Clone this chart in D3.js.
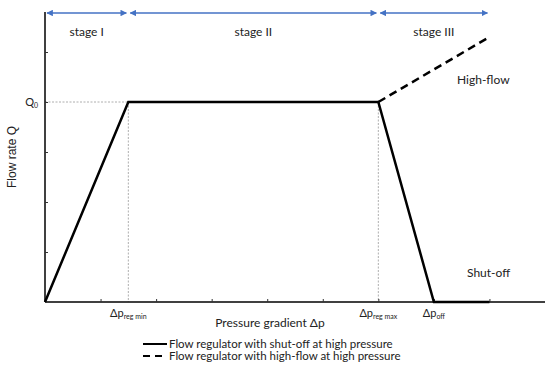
<!DOCTYPE html>
<html>
<head>
<meta charset="utf-8">
<script src="https://cdn.jsdelivr.net/npm/d3@7"></script>
<style>
  body { margin: 0; background: #fff; }
  svg { display: block; font-family: Lato, "Open Sans", sans-serif; }
</style>
</head>
<body>
<div id="chart"></div>
<script>
// curve points (Δp in axis units, Q in axis units)
const shutOffX = [0, 1.5, 6, 7, 8];
const shutOffY = [0, 4, 4, 0, 0];
const highFlowX = [6, 8];
const highFlowY = [4, 5.3];
const q0 = 4;
const xTickValues = [1, 2, 3, 4, 5, 6, 7, 8];
const yTickValues = [1, 2, 3, 4, 5];
const markX = [1.5, 6, 7];
const markLabels = [["Δp", "reg min"], ["Δp", "reg max"], ["Δp", "off"]];
const stageBounds = [[0, 1.5], [1.5, 6], [6, 8]];
const stageNames = ["stage I", "stage II", "stage III"];
const legendNames = [
  "Flow regulator with shut-off at high pressure",
  "Flow regulator with high-flow at high pressure",
];

const width = 550, height = 368;
const margin = { top: 12, right: 5, bottom: 66, left: 45 };

const svg = d3.select("#chart").append("svg")
  .attr("width", width).attr("height", height);

const x = d3.scaleLinear().domain([0, 9]).range([margin.left, width - margin.right]);
const y = d3.scaleLinear().domain([0, 5.8]).range([height - margin.bottom, margin.top]);

// guide lines
const guide = svg.append("g")
  .attr("stroke", "#999").attr("stroke-width", 0.8).attr("stroke-dasharray", "2,1.5");
guide.append("line")
  .attr("x1", x(0)).attr("x2", x(1.5)).attr("y1", y(q0)).attr("y2", y(q0));
markX.slice(0, 2).forEach((v) => {
  guide.append("line")
    .attr("x1", x(v)).attr("x2", x(v)).attr("y1", y(q0)).attr("y2", y(0));
});

// axes
svg.append("g")
  .attr("transform", `translate(0,${y(0)})`)
  .call(d3.axisTop(x).tickValues(xTickValues).tickSize(3).tickFormat(""))
  .call((g) => g.select(".domain").attr("stroke-width", 1.5).attr("d", `M${x(0)},0H${x(9)}`))
  .call((g) => g.selectAll(".tick line").attr("stroke", "#333"));

svg.append("g")
  .attr("transform", `translate(${x(0)},0)`)
  .call(d3.axisRight(y).tickValues(yTickValues).tickSize(3).tickFormat(""))
  .call((g) => g.select(".domain").attr("stroke-width", 1.5).attr("d", `M0,${y(0)}V${y(5.8)}`))
  .call((g) => g.selectAll(".tick line").attr("stroke", "#333"));

// curves
const line = d3.line().x((d) => x(d[0])).y((d) => y(d[1]));
svg.append("path")
  .datum(d3.zip(highFlowX, highFlowY))
  .attr("d", line).attr("fill", "none")
  .attr("stroke", "#000").attr("stroke-width", 2.5).attr("stroke-dasharray", "8,5");
svg.append("path")
  .datum(d3.zip(shutOffX, shutOffY))
  .attr("d", line).attr("fill", "none")
  .attr("stroke", "#000").attr("stroke-width", 2.5).attr("stroke-linejoin", "miter");

// stage arrows
const defs = svg.append("defs");
defs.append("marker").attr("id", "arr").attr("viewBox", "0 0 10 10")
  .attr("refX", 9).attr("refY", 5).attr("markerWidth", 5).attr("markerHeight", 5)
  .attr("orient", "auto-start-reverse")
  .append("path").attr("d", "M0,0L10,5L0,10Z").attr("fill", "#4472c4");

const stageY = 13;
stageBounds.forEach((b, i) => {
  svg.append("line")
    .attr("x1", x(b[0]) + 2).attr("x2", x(b[1]) - 2)
    .attr("y1", stageY).attr("y2", stageY)
    .attr("stroke", "#4472c4").attr("stroke-width", 1.3)
    .attr("marker-start", "url(#arr)").attr("marker-end", "url(#arr)");
  svg.append("text")
    .attr("x", (x(b[0]) + x(b[1])) / 2).attr("y", 36)
    .attr("text-anchor", "middle").attr("font-size", 12).attr("fill", "#222")
    .text(stageNames[i]);
});

// Q0 label
const q0Label = svg.append("text")
  .attr("x", 38).attr("y", y(q0) + 4)
  .attr("text-anchor", "end").attr("font-size", 11).attr("fill", "#222");
q0Label.append("tspan").text("Q");
q0Label.append("tspan").attr("font-size", 7).attr("dy", 2).text("0");

// x marker labels
markX.forEach((v, i) => {
  const t = svg.append("text")
    .attr("x", x(v)).attr("y", 317)
    .attr("text-anchor", "middle").attr("font-size", 11).attr("fill", "#222");
  t.append("tspan").text(markLabels[i][0]);
  t.append("tspan").attr("font-size", 7).attr("dy", 2).text(markLabels[i][1]);
});

// annotations
svg.append("text").attr("x", 457).attr("y", 84)
  .attr("font-size", 12).attr("fill", "#222").text("High-flow");
svg.append("text").attr("x", 467).attr("y", 277)
  .attr("font-size", 12).attr("fill", "#222").text("Shut-off");

// axis titles
svg.append("text")
  .attr("x", 270).attr("y", 327)
  .attr("text-anchor", "middle").attr("font-size", 12).attr("fill", "#222")
  .text("Pressure gradient Δp");
svg.append("text")
  .attr("transform", `translate(16,${(y(0) + y(5.8)) / 2}) rotate(-90)`)
  .attr("text-anchor", "middle").attr("font-size", 12).attr("fill", "#222")
  .style("font-family", "'Liberation Sans', Arial, sans-serif")
  .text("Flow rate Q");

// legend
const legend = svg.append("g").attr("transform", "translate(143,344)");
legendNames.forEach((name, i) => {
  const row = legend.append("g").attr("transform", `translate(0,${i * 12})`);
  row.append("line").attr("x1", 0).attr("x2", 24).attr("y1", 0).attr("y2", 0)
    .attr("stroke", "#000").attr("stroke-width", 2)
    .attr("stroke-dasharray", i === 1 ? "7,5" : null);
  row.append("text").attr("x", 26).attr("y", 4)
    .attr("font-size", 11.5).attr("fill", "#222").text(name);
});
</script>
</body>
</html>
